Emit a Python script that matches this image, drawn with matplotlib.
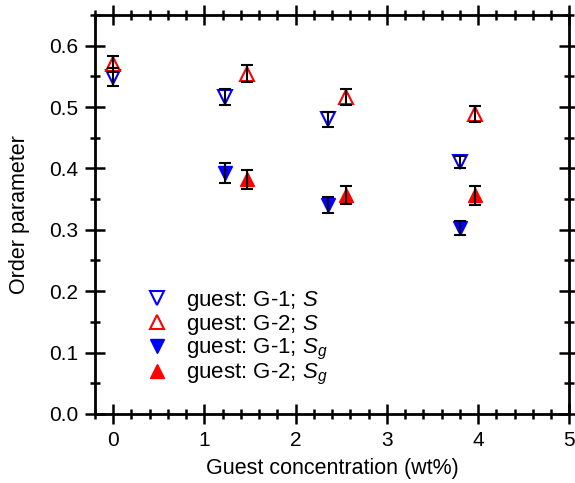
import matplotlib
matplotlib.use('Agg')
import matplotlib.pyplot as plt
from matplotlib.ticker import MultipleLocator, FormatStrFormatter

plt.rcParams['font.family'] = 'Liberation Sans'
plt.rcParams['mathtext.fontset'] = 'custom'
plt.rcParams['mathtext.it'] = 'Liberation Sans:italic'
plt.rcParams['mathtext.rm'] = 'Liberation Sans'

# data
x_g1 = [0.0, 1.23, 2.35, 3.80]
x_g2 = [0.0, 1.47, 2.55, 3.97]
s_g1 = [0.549, 0.516, 0.480, 0.411]
s_g1_err = [0.014, 0.013, 0.012, 0.010]
s_g2 = [0.570, 0.554, 0.516, 0.488]
s_g2_err = [0.013, 0.014, 0.013, 0.013]
x_g1_sg = [1.23, 2.35, 3.80]
x_g2_sg = [1.47, 2.55, 3.97]
sg_g1 = [0.393, 0.341, 0.303]
sg_g1_err = [0.016, 0.013, 0.012]
sg_g2 = [0.382, 0.357, 0.356]
sg_g2_err = [0.015, 0.015, 0.015]

fig = plt.figure(figsize=(5.75, 4.83), dpi=100)
ax = fig.add_axes([0.165, 0.143, 0.825, 0.826])

ms = 10.5
# open markers, then filled markers
h1, = ax.plot(x_g1, s_g1, 'v', ms=ms, mfc='white', mec='blue', mew=1.5, ls='none', zorder=3)
h2, = ax.plot(x_g2, s_g2, '^', ms=ms, mfc='white', mec='red', mew=1.5, ls='none', zorder=3)
h3, = ax.plot(x_g1_sg, sg_g1, 'v', ms=ms, color='blue', ls='none', zorder=3)
h4, = ax.plot(x_g2_sg, sg_g2, '^', ms=ms, color='red', ls='none', zorder=3)

# black error bars on top
for xs, ys, es in [(x_g1, s_g1, s_g1_err), (x_g2, s_g2, s_g2_err),
                   (x_g1_sg, sg_g1, sg_g1_err), (x_g2_sg, sg_g2, sg_g2_err)]:
    ax.errorbar(xs, ys, yerr=es, fmt='none', ecolor='black', elinewidth=1.5,
                capsize=4, capthick=1.5, zorder=4)

ax.set_xlim(-0.2, 5)
ax.set_ylim(0, 0.65)
ax.xaxis.set_major_locator(MultipleLocator(1))
ax.xaxis.set_minor_locator(MultipleLocator(0.2))
ax.yaxis.set_major_locator(MultipleLocator(0.1))
ax.yaxis.set_minor_locator(MultipleLocator(0.05))
ax.yaxis.set_major_formatter(FormatStrFormatter('%.1f'))

for s in ax.spines.values():
    s.set_linewidth(2)
ax.tick_params(which='both', direction='inout', top=True, right=True, width=1.8, labelsize=15)
ax.tick_params(which='major', length=14, pad=5)
ax.tick_params(which='minor', length=7)

ax.set_xlabel('Guest concentration (wt%)', fontsize=15.5, labelpad=6)
ax.set_ylabel('Order parameter', fontsize=15.5, labelpad=14)

ax.legend([h1, h2, h3, h4],
          ['guest: G-1; $S$', 'guest: G-2; $S$', 'guest: G-1; $S_g$', 'guest: G-2; $S_g$'],
          loc='upper left', bbox_to_anchor=(0.075, 0.335), frameon=False, fontsize=16,
          handletextpad=0.5, labelspacing=0.0, borderaxespad=0, handlelength=1.6)

fig.savefig('out.png', dpi=100)
